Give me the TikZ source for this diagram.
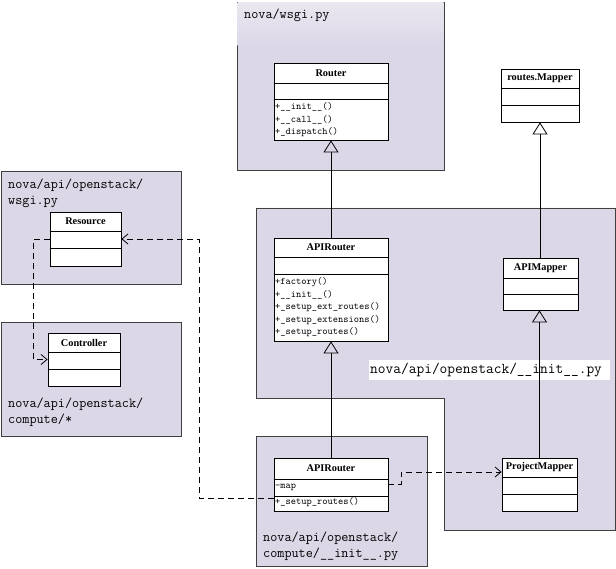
\documentclass[tikz,border=0pt]{standalone}
\usepackage{fontspec}
\setmainfont{Liberation Serif}
\usetikzlibrary{arrows.meta,fit}
\definecolor{pkg}{RGB}{220,215,231}
\definecolor{pkgtop}{RGB}{234,231,240}
\newcommand\compline[2]{\coordinate (tmpc) at (0,#2); \draw[cline] (#1.west |- tmpc) -- (#1.east |- tmpc);}
\begin{document}
\begin{tikzpicture}[x=1pt,y=-1pt,
 pkgbox/.style={draw=black!75, fill=pkg, line width=0.7pt},
 cls/.style={draw=black, fill=white, line width=0.8pt, inner sep=0pt},
 cline/.style={draw=black, line width=0.8pt},
 clsname/.style={font=\fontsize{10.3}{12}\selectfont\bfseries, inner sep=0pt},
 optext/.style={font=\ttfamily\fontsize{10}{12}\selectfont, anchor=base west, inner sep=0pt},
 pkglabel/.style={font=\ttfamily\fontsize{13.8}{16}\selectfont, anchor=base west, inner sep=0pt},
 gen/.style={line width=0.8pt, -{Triangle[open, length=12pt, width=15pt]}},
 dep/.style={line width=0.8pt, dash pattern=on 6pt off 4pt, -{Straight Barb[length=6pt, width=10pt]}},
]
\useasboundingbox (0,0) rectangle (616,569);
\fill[white] (0,0) rectangle (616,569);

% packages
\draw[pkgbox] (237,2) rectangle (444,170);
\shade[top color=pkgtop, bottom color=pkg] (237.5,2.5) rectangle (443.5,46);
\node[pkglabel] (lwsgi) at (244,18.5) {nova/wsgi.py};

\draw[pkgbox] (1,171) rectangle (181,284);
\node[pkglabel] (loswsgi1) at (8,189) {nova/api/openstack/};
\node[pkglabel] (loswsgi2) at (8,205) {wsgi.py};

\draw[pkgbox] (1,322) rectangle (181,436);
\node[pkglabel] (lctrl1) at (8,407) {nova/api/openstack/};
\node[pkglabel] (lctrl2) at (8,423) {compute/*};

\draw[pkgbox] (256,208) -- (615,208) -- (615,530) -- (444,530) -- (444,398) -- (256,398) -- cycle;
\fill[white] (369,360) rectangle (610,380);
\node[font=\ttfamily\fontsize{15}{16}\selectfont, anchor=base west, inner sep=0pt] (linit) at (370,373.5) {nova/api/openstack/\_\_init\_\_.py};

\draw[pkgbox] (256,436) rectangle (427,566);
\node[pkglabel] (lcomp1) at (263,541) {nova/api/openstack/};
\node[pkglabel] (lcomp2) at (263,557) {compute/\_\_init\_\_.py};

% classes
\node[cls, fit={(274,63)(388,140)}] (router) {};
\compline{router}{83}\compline{router}{99}
\node[clsname] at (331,73) {Router};
\node[optext] at (275,110) {+\_\_init\_\_()};
\node[optext] at (275,122.5) {+\_\_call\_\_()};
\node[optext] at (275,135) {+\_dispatch()};

\node[cls, fit={(501,69)(579,122)}] (rmapper) {};
\compline{rmapper}{88}\compline{rmapper}{105}
\node[clsname] at (540,78.5) {routes.Mapper};

\node[cls, fit={(50,212)(121,266)}] (resource) {};
\compline{resource}{231}\compline{resource}{248}
\node[clsname] at (85.5,221.5) {Resource};

\node[cls, fit={(48,333)(120,386)}] (controller) {};
\compline{controller}{352}\compline{controller}{369}
\node[clsname] at (84,342.5) {Controller};

\node[cls, fit={(274,238)(388,341)}] (apirouter) {};
\compline{apirouter}{257}\compline{apirouter}{274}
\node[clsname] at (331,247.5) {APIRouter};
\node[optext] at (275,285) {+factory()};
\node[optext] at (275,297.5) {+\_\_init\_\_()};
\node[optext] at (275,310) {+\_setup\_ext\_routes()};
\node[optext] at (275,322.5) {+\_setup\_extensions()};
\node[optext] at (275,335) {+\_setup\_routes()};

\node[cls, fit={(503,258)(578,310)}] (apimapper) {};
\compline{apimapper}{278}\compline{apimapper}{294}
\node[clsname] at (540.5,268) {APIMapper};

\node[cls, fit={(274,458)(388,511)}] (apirouter2) {};
\compline{apirouter2}{479}\compline{apirouter2}{496}
\node[clsname] at (331,468.5) {APIRouter};
\node[optext] at (275,488) {-map};
\node[optext] at (275,504.5) {+\_setup\_routes()};

\node[cls, fit={(502,458)(577,511)}] (projmapper) {};
\compline{projmapper}{477}\compline{projmapper}{494}
\node[clsname] at (539.5,467.5) {ProjectMapper};

% generalisations
\draw[gen] (apirouter.north -| router.south) -- (router.south);
\draw[gen] (rmapper.south |- apimapper.north) -- (rmapper.south);
\draw[gen] (apirouter2.north) -- (apirouter.south);
\draw[gen] (projmapper.north) -- (projmapper.north |- apimapper.south);

% dependencies
\draw[dep] (resource.west) -- ++(-16,0) |- (controller.west);
\coordinate (yL) at (0,498);
\coordinate (bendL) at (199,498);
\draw[dep] (apirouter2.west |- yL) -- (bendL) |- (resource.east);
\coordinate (yR1) at (0,484);
\coordinate (bendR) at (401,484);
\coordinate (yR2) at (0,472);
\draw[dep] (apirouter2.east |- yR1) -- (bendR) |- (projmapper.west |- yR2);
\end{tikzpicture}
\end{document}
